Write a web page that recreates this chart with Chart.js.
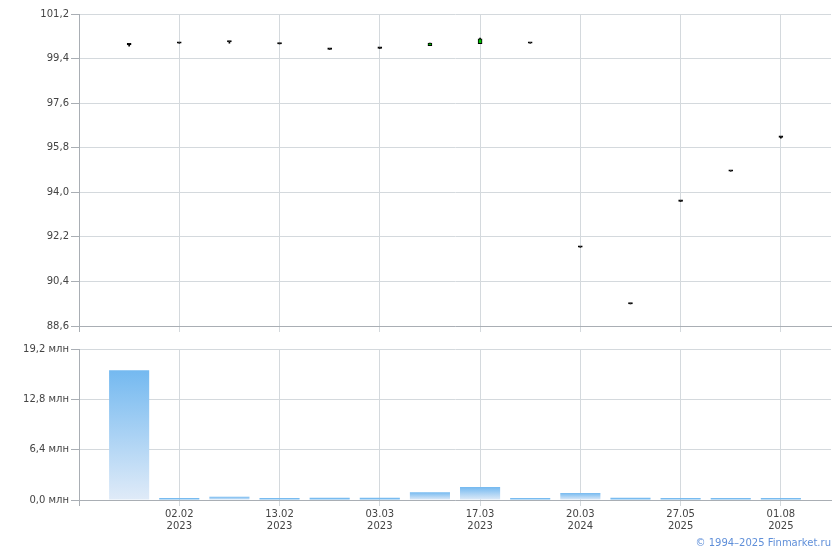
<!DOCTYPE html>
<html>
<head>
<meta charset="utf-8">
<script src="https://cdn.jsdelivr.net/npm/chart.js@4.4.1/dist/chart.umd.min.js"></script>
<style>
  body { margin: 0; background: #fff; }
  #wrap { position: relative; width: 840px; height: 550px; }
  canvas { position: absolute; left: 0; }
  #price { top: 0; }
  #volume { top: 340px; }
  #copy { position: absolute; right: 9px; top: 537px; font: 10px "DejaVu Sans", sans-serif; color: #5f8fd9; }
</style>
</head>
<body>
<div id="wrap">
  <canvas id="price" width="840" height="340"></canvas>
  <canvas id="volume" width="840" height="210"></canvas>
  <div id="copy">© 1994–2025 Finmarket.ru</div>
</div>
<script>
// one entry per trading day shown; only every other day carries a label
const dates = ['', '02.02 2023', '', '13.02 2023', '', '03.03 2023', '', '17.03 2023',
               '', '20.03 2024', '', '27.05 2025', '', '01.08 2025'];
const openV  = [99.95, 100.02, 100.07, 99.99, 99.77, 99.81, 99.92, 100.00, 100.02, 91.78, 89.49, 93.63, 94.85, 96.22];
const highV  = [100.00, 100.02, 100.07, 99.99, 99.77, 99.81, 100.03, 100.23, 100.02, 91.78, 89.49, 93.63, 94.85, 96.22];
const lowV   = [99.90, 100.02, 100.02, 99.99, 99.77, 99.81, 99.92, 100.00, 100.02, 91.78, 89.49, 93.63, 94.85, 96.19];
const closeV = [99.95, 100.02, 100.07, 99.99, 99.77, 99.81, 100.03, 100.20, 100.02, 91.78, 89.49, 93.63, 94.85, 96.22];
const volume = [16.5, 0.2, 0.42, 0.2, 0.3, 0.3, 1.0, 1.65, 0.15, 0.9, 0.3, 0.15, 0.15, 0.15]; // млн
const priceTicks = [88.6, 90.4, 92.2, 94.0, 95.8, 97.6, 99.4, 101.2];
const volumeTicks = [0, 6.4, 12.8, 19.2];

const gridColor = '#d4d9dd';
const axisColor = '#a9aeb4';
const textColor = '#444';
const font = { family: 'DejaVu Sans', size: 10, lineHeight: 1.2 };

// empty slot at each end so the first/last day sit one step inside the plot
const slots = ['', ...dates, ''];
const pad = arr => [null, ...arr, null];

const xGrid = {
  offset: false,
  color: ctx => ctx.index === 0 ? axisColor : (slots[ctx.index] ? gridColor : 'transparent'),
  tickLength: 6
};

function yAxis(ticks, fmt) {
  return {
    min: ticks[0],
    max: ticks[ticks.length - 1],
    afterBuildTicks: s => { s.ticks = ticks.map(v => ({ value: v })); },
    afterFit: s => { s.width = 79; },
    border: { color: axisColor },
    grid: { color: gridColor, tickColor: axisColor, tickLength: 8 },
    ticks: { padding: 2, color: textColor, font: font, callback: fmt }
  };
}

new Chart(document.getElementById('price'), {
  type: 'bar',
  data: {
    labels: slots,
    datasets: [{
      data: pad(openV.map((o, i) => [o, closeV[i]])),
      backgroundColor: pad(openV.map((o, i) => closeV[i] > o ? '#00c000' : closeV[i] < o ? '#e00000' : '#000')),
      borderColor: '#000',
      borderWidth: 1,
      borderSkipped: false,
      barThickness: 4,
      minBarLength: 1.5,
      grouped: false,
      order: 0
    }, {
      data: pad(lowV.map((l, i) => [l, highV[i]])),
      backgroundColor: '#000',
      barThickness: 1,
      grouped: false,
      order: 1
    }]
  },
  options: {
    responsive: false,
    animation: false,
    events: [],
    layout: { padding: { top: 14, right: 9 } },
    plugins: { legend: { display: false }, tooltip: { enabled: false } },
    scales: {
      x: {
        offset: false,
        afterFit: s => { s.height = 14; },
        border: { color: axisColor },
        grid: xGrid,
        ticks: { display: false, autoSkip: false, maxRotation: 0 }
      },
      y: yAxis(priceTicks, v => v.toFixed(1).replace('.', ','))
    }
  }
});

new Chart(document.getElementById('volume'), {
  type: 'bar',
  data: {
    labels: slots,
    datasets: [{
      data: pad(volume),
      backgroundColor: ctx => {
        const chart = ctx.chart;
        const y = chart.scales.y;
        if (!chart.chartArea || !y || ctx.raw == null) return '#78bbf0';
        const top = y.getPixelForValue(ctx.raw);
        const bottom = y.getPixelForValue(0);
        if (!isFinite(top) || bottom - top < 3) return '#78bbf0';
        const g = chart.ctx.createLinearGradient(0, top, 0, bottom);
        g.addColorStop(0, '#74b9f0');
        g.addColorStop(1, '#e0ebf8');
        return g;
      },
      minBarLength: 2,
      categoryPercentage: 0.8,
      barPercentage: 1
    }]
  },
  options: {
    responsive: false,
    animation: false,
    events: [],
    layout: { padding: { top: 9, right: 9 } },
    plugins: { legend: { display: false }, tooltip: { enabled: false } },
    scales: {
      x: {
        offset: false,
        afterFit: s => { s.height = 50; },
        border: { color: axisColor },
        grid: xGrid,
        ticks: {
          autoSkip: false, maxRotation: 0, minRotation: 0, padding: 2,
          color: textColor, font: font,
          callback: function (value) {
            const l = this.getLabelForValue(value);
            return l ? l.split(' ') : '';
          }
        }
      },
      y: yAxis(volumeTicks, v => v.toFixed(1).replace('.', ',') + ' млн')
    }
  }
});
</script>
</body>
</html>
